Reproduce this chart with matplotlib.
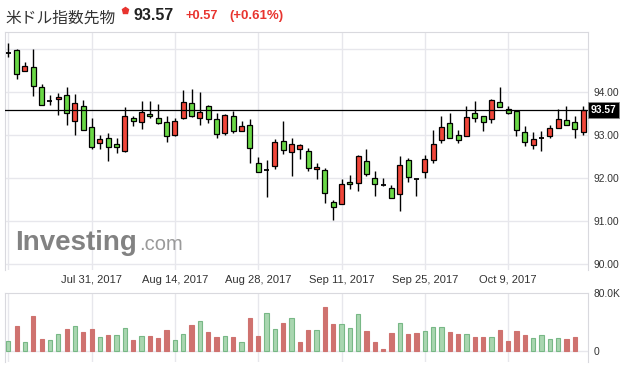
import numpy as np
import pandas as pd
import matplotlib
matplotlib.use('Agg')
import matplotlib.pyplot as plt
from matplotlib.patches import Rectangle

# --- dados (米ドル指数先物, diário) ---
datas = pd.bdate_range('2017-07-17', periods=70)

aberturas = [94.90, 94.96, 94.47, 94.56, 94.10, 93.78, 93.83, 93.93, 93.32, 93.66,
             93.17, 92.80, 92.91, 92.77, 92.61, 93.38, 93.28, 93.48, 93.38, 93.28,
             92.98, 93.38, 93.73, 93.38, 93.66, 93.35, 93.03, 93.42, 93.07, 93.21,
             92.33, 92.17, 92.27, 92.84, 92.59, 92.66, 92.62, 92.19, 92.17, 91.42,
             91.38, 91.90, 91.87, 92.38, 91.98, 91.83, 91.76, 91.61, 92.40, 91.96,
             92.12, 92.40, 92.87, 93.26, 92.98, 92.96, 93.49, 93.42, 93.35, 93.75,
             93.60, 93.55, 93.05, 92.75, 92.92, 92.96, 93.14, 93.33, 93.28, 93.05]
maximas = [95.12, 94.98, 94.69, 94.98, 94.17, 93.93, 93.97, 94.10, 93.95, 93.80,
           93.38, 93.00, 93.03, 92.91, 93.63, 93.43, 93.77, 93.77, 93.71, 93.43,
           93.38, 94.03, 94.06, 94.00, 93.69, 93.49, 93.48, 93.55, 93.31, 93.35,
           92.47, 92.41, 92.89, 93.31, 92.91, 92.77, 92.68, 92.33, 92.21, 91.48,
           91.97, 92.06, 92.52, 92.66, 92.16, 92.00, 91.83, 92.50, 92.45, 91.97,
           92.52, 93.10, 93.43, 93.50, 93.10, 93.66, 93.78, 93.42, 93.83, 94.10,
           93.66, 93.55, 93.19, 93.05, 93.07, 93.21, 93.59, 93.66, 93.42, 93.66]
minimas = [94.81, 94.30, 94.47, 93.90, 93.68, 93.68, 93.46, 93.23, 93.00, 93.10,
           92.66, 92.66, 92.39, 92.56, 92.59, 93.19, 93.13, 93.38, 93.24, 92.83,
           92.97, 93.35, 93.40, 93.23, 93.26, 92.93, 93.00, 93.04, 93.07, 92.34,
           92.12, 91.55, 92.20, 92.55, 92.04, 92.42, 92.14, 91.96, 91.40, 91.01,
           91.38, 91.74, 91.69, 92.04, 91.58, 91.81, 91.53, 91.23, 91.90, 91.58,
           92.00, 92.34, 92.81, 92.91, 92.81, 92.96, 93.30, 93.09, 93.26, 93.63,
           93.47, 92.96, 92.73, 92.66, 92.61, 92.93, 93.14, 93.21, 92.93, 93.00]
fechamentos = [94.90, 94.40, 94.59, 94.12, 93.68, 93.78, 93.88, 93.49, 93.73, 93.10,
               92.70, 92.89, 92.70, 92.71, 93.42, 93.31, 93.52, 93.43, 93.27, 92.96,
               93.31, 93.75, 93.43, 93.52, 93.35, 93.01, 93.45, 93.07, 93.19, 92.68,
               92.12, 92.17, 92.82, 92.63, 92.77, 92.75, 92.21, 92.24, 91.63, 91.31,
               91.84, 91.85, 92.50, 92.09, 91.84, 91.83, 91.53, 92.29, 92.02, 91.96,
               92.42, 92.77, 93.17, 92.91, 92.87, 93.40, 93.39, 93.28, 93.80, 93.63,
               93.49, 93.10, 92.82, 92.89, 92.92, 93.14, 93.35, 93.21, 93.12, 93.57]
# volume em milhares
volumes = [13.0, 34.5, 11.6, 48.4, 16.3, 14.4, 23.3, 30.3, 34.0, 25.1,
           30.3, 19.1, 21.9, 21.9, 31.2, 14.9, 20.0, 20.5, 17.7, 28.9,
           14.9, 23.3, 35.8, 40.9, 25.1, 19.1, 20.0, 19.1, 12.1, 45.6,
           20.5, 52.1, 29.8, 38.6, 45.1, 12.1, 28.9, 28.9, 59.6, 37.2,
           37.2, 31.2, 51.2, 27.5, 12.1, 2.3, 24.7, 38.6, 23.3, 24.7,
           27.5, 32.6, 32.6, 26.1, 23.3, 23.3, 19.1, 19.1, 19.1, 28.9,
           13.5, 27.5, 21.9, 17.7, 21.9, 16.3, 17.7, 16.3, 19.1, np.nan]

ultimo = 93.57
ticks_preco = [90, 91, 92, 93, 94, 95]
datas_rotulo = ['2017-07-31', '2017-08-14', '2017-08-28', '2017-09-11', '2017-09-25', '2017-10-09']
datas_grade = ['2017-07-17'] + datas_rotulo

# --- cores ---
vermelho = '#f0463a'
verde = '#6ad846'
vol_vermelho = '#cf726f'
vol_verde = '#a9d6b0'
vol_verde_borda = '#78b886'
cor_grade = '#e7e7ec'
cor_borda = '#d9d9de'

fonte = 'Liberation Sans'
plt.rcParams['font.family'] = [fonte, 'Noto Sans CJK JP', 'DejaVu Sans']

W, H = 629, 368
fig = plt.figure(figsize=(W / 100, H / 100), dpi=100)

def caixa(x0, y0, x1, y1):
    # pixels (topo = 0) -> fração da figura
    return [x0 / W, 1 - y1 / H, (x1 - x0) / W, (y1 - y0) / H]

ax = fig.add_axes(caixa(4.7, 32, 588, 270))
axv = fig.add_axes(caixa(4.7, 292.7, 588, 362))

x = np.arange(len(datas))
larg = 0.6

for i in x:
    o, h, l, c = aberturas[i], maximas[i], minimas[i], fechamentos[i]
    ax.vlines(i, l, h, color='black', lw=1.0, zorder=3)
    if abs(c - o) < 1e-9:
        ax.hlines(o, i - larg / 2, i + larg / 2, color='black', lw=1.3, zorder=4)
    else:
        cor = vermelho if c > o else verde
        ax.add_patch(Rectangle((i - larg / 2, min(o, c)), larg, abs(c - o),
                               facecolor=cor, edgecolor='black', lw=0.9, zorder=4))

ax.axhline(ultimo, color='black', lw=0.9, zorder=5)

idx_grade = [datas.get_loc(pd.Timestamp(d)) for d in datas_grade]
idx_rotulo = [datas.get_loc(pd.Timestamp(d)) for d in datas_rotulo]
rotulos = [f"{pd.Timestamp(d):%b} {pd.Timestamp(d).day}, {pd.Timestamp(d).year}" for d in datas_rotulo]

xlim = (-0.43, 69.59)
ax.set_xlim(*xlim)
ax.set_ylim(89.849, 95.384)
ax.set_yticks(ticks_preco)
ax.set_yticklabels([f"{t:.2f}" if t < 95 else '' for t in ticks_preco])
ax.yaxis.tick_right()
ax.tick_params(axis='y', length=0, pad=4, labelsize=7.4, labelcolor='#333333')
ax.set_xticks(idx_rotulo)
ax.set_xticklabels(rotulos)
ax.tick_params(axis='x', length=0, pad=3.5, labelsize=8, labelcolor='#333333')
ax.grid(False)
for t in ticks_preco:
    ax.axhline(t, color=cor_grade, lw=1.0, zorder=0)
for i in idx_grade:
    ax.axvline(i, color=cor_grade, lw=1.0, zorder=0)
for lado in ['top', 'left', 'right']:
    ax.spines[lado].set_color(cor_borda)
ax.spines['bottom'].set_visible(False)

# rótulo do último preço
ax.text(1.004, ultimo, f"{ultimo:.2f}", transform=ax.get_yaxis_transform(),
        ha='left', va='center', fontsize=7.4, fontweight='bold', color='white',
        bbox=dict(boxstyle='square,pad=0.25', facecolor='black', edgecolor='#888888', lw=0.6),
        zorder=6)

# marca d'água
fig.text(15 / W, 1 - 250 / H, 'Investing', fontsize=20, fontweight='bold',
         color='#6c6c6c', alpha=0.85, va='baseline', ha='left')
fig.text(139 / W, 1 - 250 / H, '.com', fontsize=14.5, color='#9a9a9a',
         va='baseline', ha='left')

# --- volume ---
cores_vol = [vol_verde]
for i in range(1, len(fechamentos)):
    cores_vol.append(vol_verde if fechamentos[i] >= fechamentos[i - 1] else vol_vermelho)
bordas_vol = [vol_verde_borda if c == vol_verde else vol_vermelho for c in cores_vol]
axv.bar(x, volumes, width=0.5, color=cores_vol, edgecolor=bordas_vol, lw=0.8, zorder=3)
axv.set_xlim(*xlim)
axv.set_ylim(-15.6, 80)
axv.set_yticks([0, 80])
axv.set_yticklabels(['0', '80.0K'])
axv.yaxis.tick_right()
axv.tick_params(axis='y', length=0, pad=4, labelsize=7.4, labelcolor='#333333')
axv.set_xticks([])
axv.axhline(0, color=cor_grade, lw=1.0, zorder=0)
for i in idx_grade:
    axv.axvline(i, color=cor_grade, lw=1.0, zorder=0)
for lado in ['top', 'left', 'right']:
    axv.spines[lado].set_color(cor_borda)
axv.spines['bottom'].set_visible(False)

# --- cabeçalho ---
fig.text(5 / W, 1 - 18 / H, '米ドル指数先物', fontsize=11.3, color='#333333',
         family=['Noto Sans CJK JP', 'DejaVu Sans'], va='center', ha='left')
fig.add_artist(plt.Line2D([125 / W], [1 - 10 / H], marker='p', markersize=4.5,
                          color='#e8342f', transform=fig.transFigure))
fig.text(134 / W, 1 - 19.5 / H, '93.57', fontsize=11.5, fontweight='bold', color='#222222',
         va='baseline', ha='left')
fig.text(185 / W, 1 - 19 / H, '+0.57', fontsize=9.3, fontweight='bold', color='#e8342f',
         va='baseline', ha='left')
fig.text(229 / W, 1 - 19 / H, '(+0.61%)', fontsize=9.5, fontweight='bold', color='#e8342f',
         va='baseline', ha='left')

fig.savefig('out.png', dpi=100)
